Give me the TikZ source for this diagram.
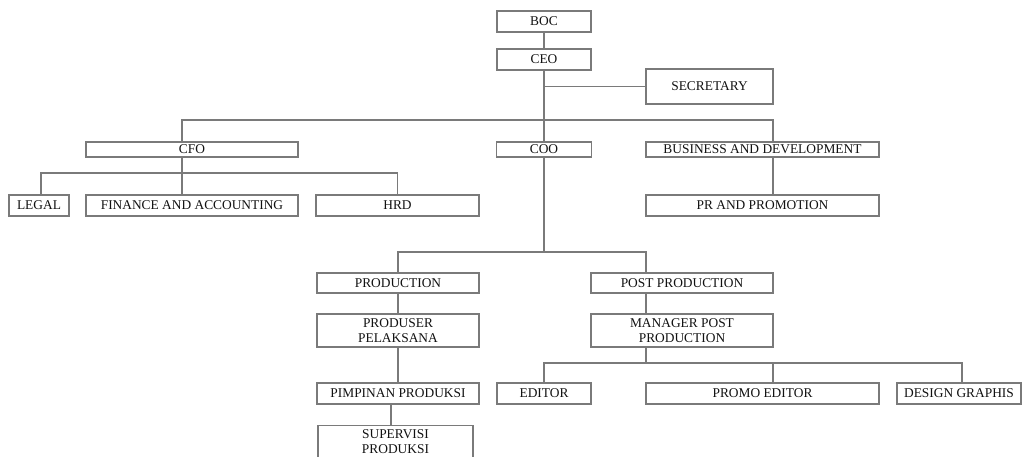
\documentclass[tikz,border=0pt]{standalone}
\usepackage{fontspec}
\setmainfont{Liberation Serif}
\usetikzlibrary{shapes}
\definecolor{linegray}{HTML}{7A7A7A}
\definecolor{textgray}{HTML}{111111}

\begin{document}
\begin{tikzpicture}[x=1pt, y=-1pt, line width=1.2pt, color=linegray,
  every node/.style={rectangle, draw=linegray, text=textgray, inner sep=0pt, align=center, minimum height=21pt, font=\fontsize{13.4}{15}\selectfont},
  slim/.style={minimum height=15pt}, tall/.style={minimum height=33pt}]
  \useasboundingbox (0,0) rectangle (1023,457);
  \node[minimum width=94pt] (boc) at (544,21.5) {BOC};
  \node[minimum width=94pt] (ceo) at (544,59.5) {CEO};
  \node[minimum width=127pt, minimum height=35pt] (sec) at (709.5,86.5) {SECRETARY};
  \node[slim, minimum width=212pt] (cfo) at (192,149.5) {CFO};
  \node[slim, minimum width=95pt] (coo) at (544,149.5) {COO};
  \node[slim, minimum width=233pt] (bd) at (762.5,149.5) {BUSINESS AND DEVELOPMENT};
  \node[minimum width=60pt] (legal) at (39,205.5) {LEGAL};
  \node[minimum width=212pt] (fin) at (192,205.5) {FINANCE AND ACCOUNTING};
  \node[minimum width=163pt] (hrd) at (397.5,205.5) {HRD};
  \node[minimum width=233pt] (pr) at (762.5,205.5) {PR AND PROMOTION};
  \node[minimum width=162pt, minimum height=20pt] (prod) at (398,283) {PRODUCTION};
  \node[minimum width=182pt, minimum height=20pt] (post) at (682,283) {POST PRODUCTION};
  \node[tall, minimum width=162pt] (pelaksana) at (398,330.5) {PRODUSER\\PELAKSANA};
  \node[tall, minimum width=182pt] (mgr) at (682,330.5) {MANAGER POST\\PRODUCTION};
  \node[minimum width=162pt] (pimpinan) at (398,393.5) {PIMPINAN PRODUKSI};
  \node[minimum width=94pt] (editor) at (544,393.5) {EDITOR};
  \node[minimum width=233pt] (promo) at (762.5,393.5) {PROMO EDITOR};
  \node[minimum width=124pt] (design) at (959,393.5) {DESIGN GRAPHIS};
  \node[tall, minimum width=155pt] (supervisi) at (395.5,442) {SUPERVISI\\PRODUKSI};
  \coordinate (topbus) at (544,120);
  \coordinate (cfobus) at (182,173);
  \coordinate (coobus) at (544,252);
  \coordinate (postbus) at (646,363);
  \draw (boc) -- (ceo);
  \draw (ceo) -- (coo);
  \draw (ceo.south) |- (sec.west);
  \draw ([xshift=-10pt]cfo.north) |- (topbus) -| ([xshift=10.5pt]bd.north);
  \draw ([xshift=-10pt]cfo.south) -- ([xshift=-10pt]fin.north);
  \draw ([xshift=2pt]legal.north) |- (cfobus) -| (hrd.north);
  \draw ([xshift=10.5pt]bd.south) -- ([xshift=10.5pt]pr.north);
  \draw (coo) -- (coobus);
  \draw (prod.north) |- (coobus) -| ([xshift=-36pt]post.north);
  \draw (prod) -- (pelaksana);
  \draw ([xshift=-36pt]post.south) -- ([xshift=-36pt]mgr.north);
  \draw (pelaksana) -- (pimpinan);
  \draw ([xshift=-7pt]pimpinan.south) -- ([xshift=-7pt]pimpinan.south |- supervisi.north);
  \draw ([xshift=-36pt]mgr.south) -- (postbus);
  \draw (editor.north) |- (postbus) -| ([xshift=3pt]design.north);
  \draw ([xshift=10.5pt]promo.north) -- ([xshift=10.5pt]promo.north |- postbus);
\end{tikzpicture}
\end{document}
